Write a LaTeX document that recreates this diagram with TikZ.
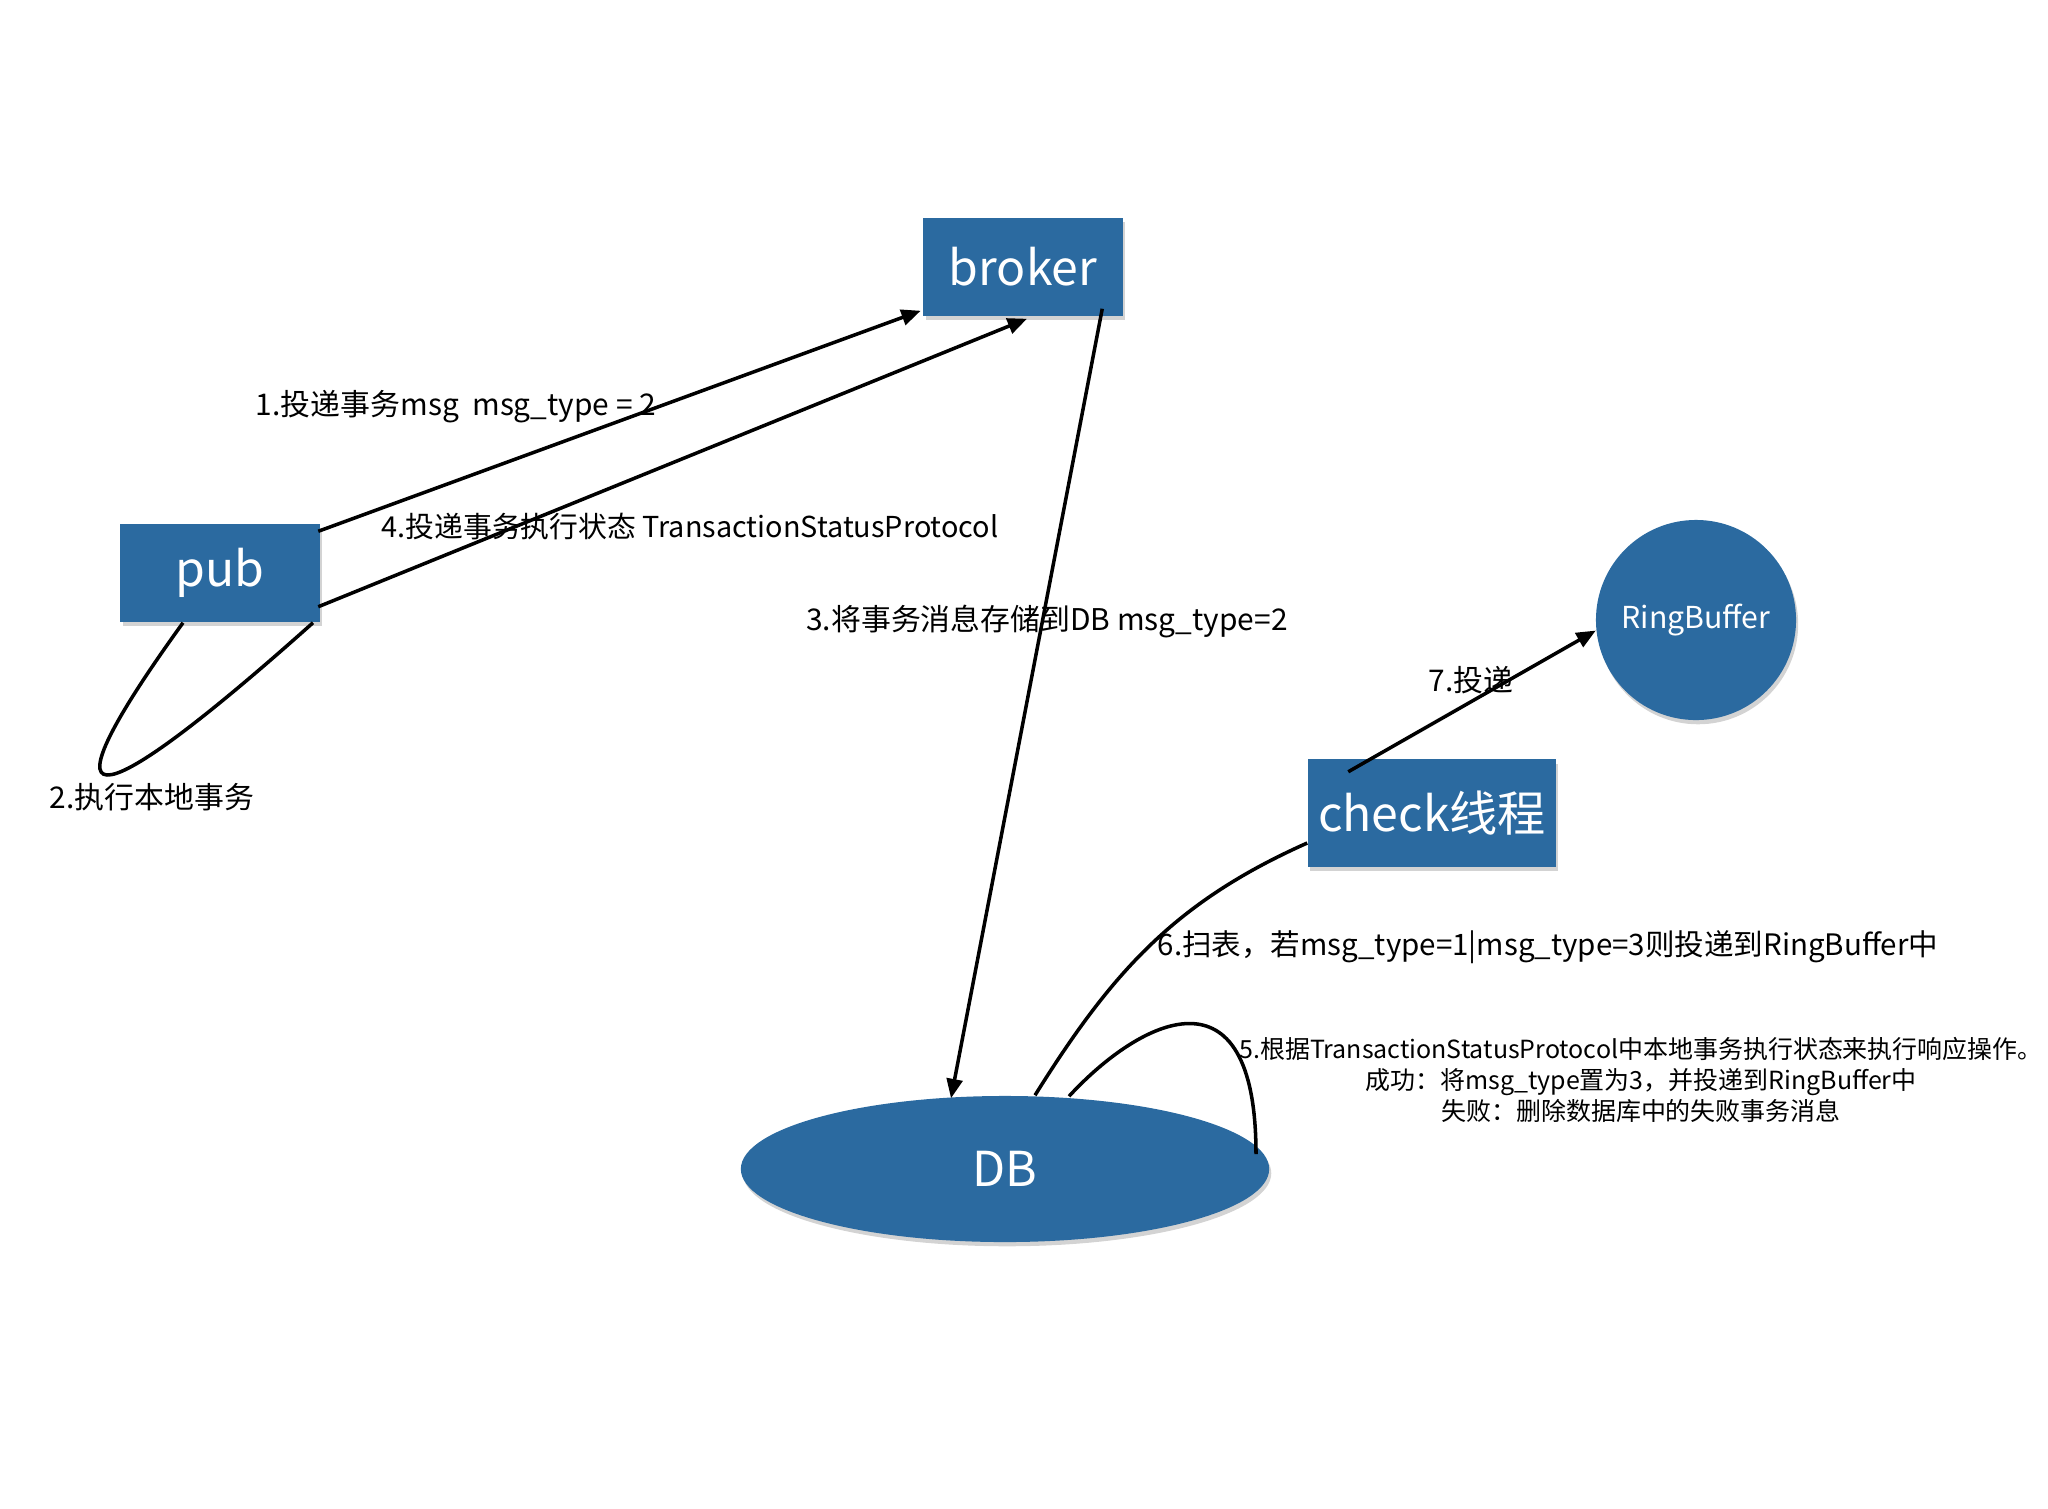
\documentclass[tikz,border=0pt]{standalone}
\usepackage{fontspec}
\setmainfont{Noto Sans CJK SC}
\usetikzlibrary{arrows.meta,shapes.geometric,shadows}
\definecolor{boxblue}{RGB}{43,106,160}
\tikzset{
 blk/.style={fill=boxblue,draw=none,text=white,inner sep=0pt,
  font=\fontsize{13.7}{16}\selectfont,
  drop shadow={shadow xshift=0.6pt,shadow yshift=-1.2pt,opacity=0.35}},
 box/.style={blk,rectangle,minimum width=1.99cm,minimum height=0.98cm},
 lbl/.style={inner sep=0pt,font=\fontsize{8.5}{10}\selectfont},
 flow/.style={line width=1pt}
}
\begin{document}
\begin{tikzpicture}[x=0.01cm,y=-0.01cm,>={Triangle[length=5.5pt,width=4.5pt]}]
 \useasboundingbox (0,0) rectangle (2048,1508);
 \node[box] (broker) at (1023,267) {broker};
 \node[box] (pub) at (220,573) {pub};
 \node[box,minimum width=2.48cm,minimum height=1.07cm] (check) at (1432,813) {check线程};
 \node[blk,circle,minimum size=2cm,font=\fontsize{8.6}{10}\selectfont] (rb) at (1696,620) {RingBuffer};
 \node[blk,ellipse,minimum width=5.28cm,minimum height=1.46cm] (db) at (1005,1169) {DB};
 \draw[flow,->] ([shift={(-2,8)}]pub.north east) -- ([shift={(-2,-6)}]broker.south west);
 \draw[flow,->] ([shift={(-2,-16)}]pub.south east) -- ([shift={(4,2)}]broker.south);
 \draw[flow,->] ([shift={(-21,-8)}]broker.south east) -- ([shift={(-54,3)}]db.north);
 \draw[flow] ([shift={(-37,0)}]pub.south) .. controls +(-143,198) and +(-233,208) .. ([shift={(93,0)}]pub.south);
 \draw[flow] ([shift={(30,0)}]db.north) to[out=58,in=204] ([shift={(0,30)}]check.west);
 \draw[flow] ([shift={(64,1)}]db.north) .. controls +(71,-77) and +(0,-194) .. ([shift={(251,-15)}]db.center);
 \draw[flow,->] ([shift={(41,13)}]check.north west) -- (rb.186);
 \node[lbl] (l1) at (456,407) {1.投递事务msg\ \ msg\_type = 2};
 \node[lbl,font=\fontsize{8.2}{10}\selectfont] (l4) at (690,527) {4.投递事务执行状态 TransactionStatusProtocol};
 \node[lbl] (l2) at (152,797) {2.执行本地事务};
 \node[lbl] (l3) at (1047,622) {3.将事务消息存储到DB msg\_type=2};
 \node[lbl] (l7) at (1471,680) {7.投递};
 \node[lbl,font=\fontsize{8.4}{10}\selectfont] (l6) at (1548,947) {6.扫表，若msg\_type=1|msg\_type=3则投递到RingBuffer中};
 \node[lbl,align=center,font=\fontsize{7.1}{8.9}\selectfont] (l5) at (1641,1080) {5.根据TransactionStatusProtocol中本地事务执行状态来执行响应操作。\\成功：将msg\_type置为3，并投递到RingBuffer中\\失败：删除数据库中的失败事务消息};
\end{tikzpicture}
\end{document}
